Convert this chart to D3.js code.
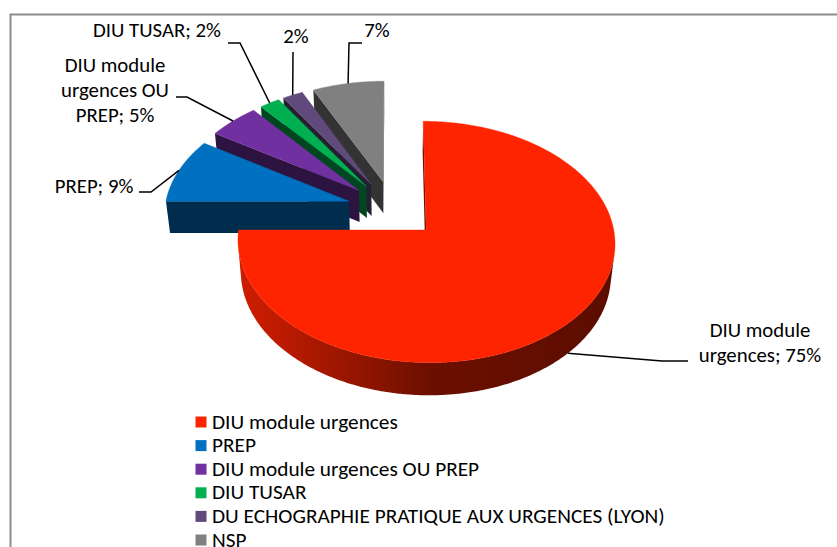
<!DOCTYPE html>
<html>
<head>
<meta charset="utf-8">
<script src="https://cdn.jsdelivr.net/npm/d3@7"></script>
<style>
  html, body { margin: 0; padding: 0; background: #fff; }
  svg { display: block; }
  text { font-family: Carlito, Lato, "Open Sans", sans-serif; fill: #000; }
</style>
</head>
<body>
<svg id="chart" width="837" height="547"></svg>
<script>
// ---- data ----
const categories = [
  "DIU module urgences",
  "PREP",
  "DIU module urgences OU PREP",
  "DIU TUSAR",
  "DU ECHOGRAPHIE PRATIQUE AUX URGENCES (LYON)",
  "NSP"
];
const percentages = [75, 9, 5, 2, 2, 7];
const colors = ["#ff2400", "#0070c0", "#7030a0", "#00b050", "#604a7b", "#808080"];
// data label lines; {v} is replaced by the slice value
const labelLines = [
  ["DIU module", "urgences; {v}%"],
  ["PREP; {v}%"],
  ["DIU module", "urgences OU", "PREP; {v}%"],
  ["DIU TUSAR; {v}%"],
  ["{v}%"],
  ["{v}%"]
];

// ---- layout ----
const W = 837, H = 547;
const FONT = 20.8, LEGEND_FONT = 21.3;
const svg = d3.select("#chart");
const defs = svg.append("defs");

// chart frame
svg.append("rect")
  .attr("x", 10.5).attr("y", 14.5)
  .attr("width", W + 20).attr("height", H + 20)
  .attr("fill", "none").attr("stroke", "#8c8c8c").attr("stroke-width", 2);

// ---- 3D projection of the pie plane ----
const phi = 40 * Math.PI / 180;     // elevation
const camDist = 8;                  // camera distance, in radii
const focal = 1448;                 // px
const thick = 0.225;                // pie height, in radii
const explode = 0.25;               // slice explosion, in radii
const ox = 393, oy = 241;           // screen position of the pie axis
const sinP = Math.sin(phi), cosP = Math.cos(phi);
const cam = [0, -camDist * cosP, camDist * sinP];

// world point: x right, d away from viewer, h up
function project(p) {
  const [x, d, h] = p;
  const yc = h * cosP + d * sinP;
  const zc = camDist + d * cosP - h * sinP;
  return [ox + focal * x / zc, oy - focal * yc / zc];
}
function dist(p) {
  return Math.hypot(p[0] - cam[0], p[1] - cam[1], p[2] - cam[2]);
}
function facing(p, n) {
  return (cam[0] - p[0]) * n[0] + (cam[1] - p[1]) * n[1] + (cam[2] - p[2]) * n[2] > 0;
}

const arcs = d3.pie().sort(null).value(d => d)(percentages);
const slices = arcs.map((a, i) => {
  const mid = (a.startAngle + a.endAngle) / 2;
  return {
    i, a0: a.startAngle, a1: a.endAngle, mid,
    cx: explode * Math.sin(mid),
    cd: explode * Math.cos(mid)
  };
});
const pt = (s, th, r, h) => [s.cx + r * Math.sin(th), s.cd + r * Math.cos(th), h];

const line = d3.line();
const poly = pts => line(pts.map(project)) + "Z";
const shade = (c, f) => d3.interpolateRgb("#000", c)(f);

// order slices far to near
slices.forEach(s => {
  s.depth = dist(pt(s, s.mid, 0.5, thick / 2));
});
const drawOrder = slices.slice().sort((a, b) => b.depth - a.depth);

const pieG = svg.append("g");
drawOrder.forEach(s => {
  const col = colors[s.i];
  const g = pieG.append("g");
  const n = Math.max(2, Math.ceil((s.a1 - s.a0) / (Math.PI / 360)));
  const step = (s.a1 - s.a0) / n;

  // outer curved wall: the run of angles that faces the viewer
  const vis = [];
  for (let k = 0; k <= n; k++) {
    const th = s.a0 + k * step;
    if (facing(pt(s, th, 1, thick / 2), [Math.sin(th), Math.cos(th), 0])) vis.push(th);
  }
  const faces = [];
  if (vis.length > 1) {
    const topPts = vis.map(th => pt(s, th, 1, thick));
    const botPts = vis.map(th => pt(s, th, 1, 0)).reverse();
    const gid = "side" + s.i;
    const grad = defs.append("linearGradient").attr("id", gid)
      .attr("gradientUnits", "userSpaceOnUse")
      .attr("x1", ox - focal / camDist).attr("x2", ox + focal / camDist + 40)
      .attr("y1", 0).attr("y2", 0);
    [[0, 0.82], [0.12, 0.78], [0.55, 0.42], [1, 0.36]].forEach(([o, f]) =>
      grad.append("stop").attr("offset", o).attr("stop-color", shade(col, f)));
    faces.push({
      d: poly([...topPts, ...botPts]),
      depth: d3.max(vis, th => dist(pt(s, th, 1, thick / 2))),
      fill: `url(#${gid})`
    });
  }
  // radial walls
  [[s.a0, [-Math.cos(s.a0), Math.sin(s.a0), 0]], [s.a1, [Math.cos(s.a1), -Math.sin(s.a1), 0]]]
    .forEach(([th, nrm]) => {
      const c = pt(s, th, 0.5, thick / 2);
      if (!facing(c, nrm)) return;
      faces.push({
        d: poly([pt(s, th, 0, thick), pt(s, th, 1, thick), pt(s, th, 1, 0), pt(s, th, 0, 0)]),
        depth: dist(c), fill: shade(col, 0.4)
      });
    });
  faces.sort((a, b) => b.depth - a.depth);
  g.selectAll("path.wall").data(faces).join("path")
    .attr("class", "wall")
    .attr("d", f => f.d)
    .attr("fill", f => f.fill);
  // top face
  const top = [pt(s, 0, 0, thick)];
  for (let k = 0; k <= n; k++) top.push(pt(s, s.a0 + k * step, 1, thick));
  g.append("path").attr("d", poly(top)).attr("fill", col)
    .attr("stroke", col).attr("stroke-width", 0.4);
});

// ---- data labels with leader lines ----
const labelPos = [
  { x: 760, y: 337, bend: [[662, 361], [688, 361]] },
  { x: 94,  y: 193, bend: [[151, 192], [139, 192]] },
  { x: 115, y: 72,  bend: [[187, 97], [176, 97]] },
  { x: 157, y: 37,  bend: [[240, 43], [228, 43]] },
  { x: 296, y: 43,  bend: [[293, 52]] },
  { x: 377, y: 37,  bend: [[349, 43], [362, 43]] }
];
const lineH = 25;
const labelsG = svg.append("g");
slices.forEach(s => {
  const near = Math.cos(s.mid) < 0;
  const anchor = project(pt(s, s.mid, 1, near ? 0 : thick));
  const lp = labelPos[s.i];
  labelsG.append("path")
    .attr("d", d3.line()([anchor, ...lp.bend]))
    .attr("fill", "none").attr("stroke", "#000").attr("stroke-width", 1.5);
  const t = labelsG.append("text")
    .attr("text-anchor", "middle").attr("font-size", FONT);
  labelLines[s.i].forEach((ln, j) => {
    t.append("tspan").attr("x", lp.x).attr("y", lp.y + j * lineH)
      .text(ln.replace("{v}", percentages[s.i]));
  });
});

// ---- legend ----
const legendY = d3.scaleLinear().domain([0, 1]).range([422, 445.6]);
const legend = svg.append("g");
categories.forEach((c, i) => {
  const y = legendY(i);
  legend.append("rect").attr("x", 195.5).attr("y", y - 5.5)
    .attr("width", 11).attr("height", 11).attr("fill", colors[i]);
  legend.append("text").attr("x", 212).attr("y", y + 6.5)
    .attr("font-size", LEGEND_FONT).text(c);
});
</script>
</body>
</html>
